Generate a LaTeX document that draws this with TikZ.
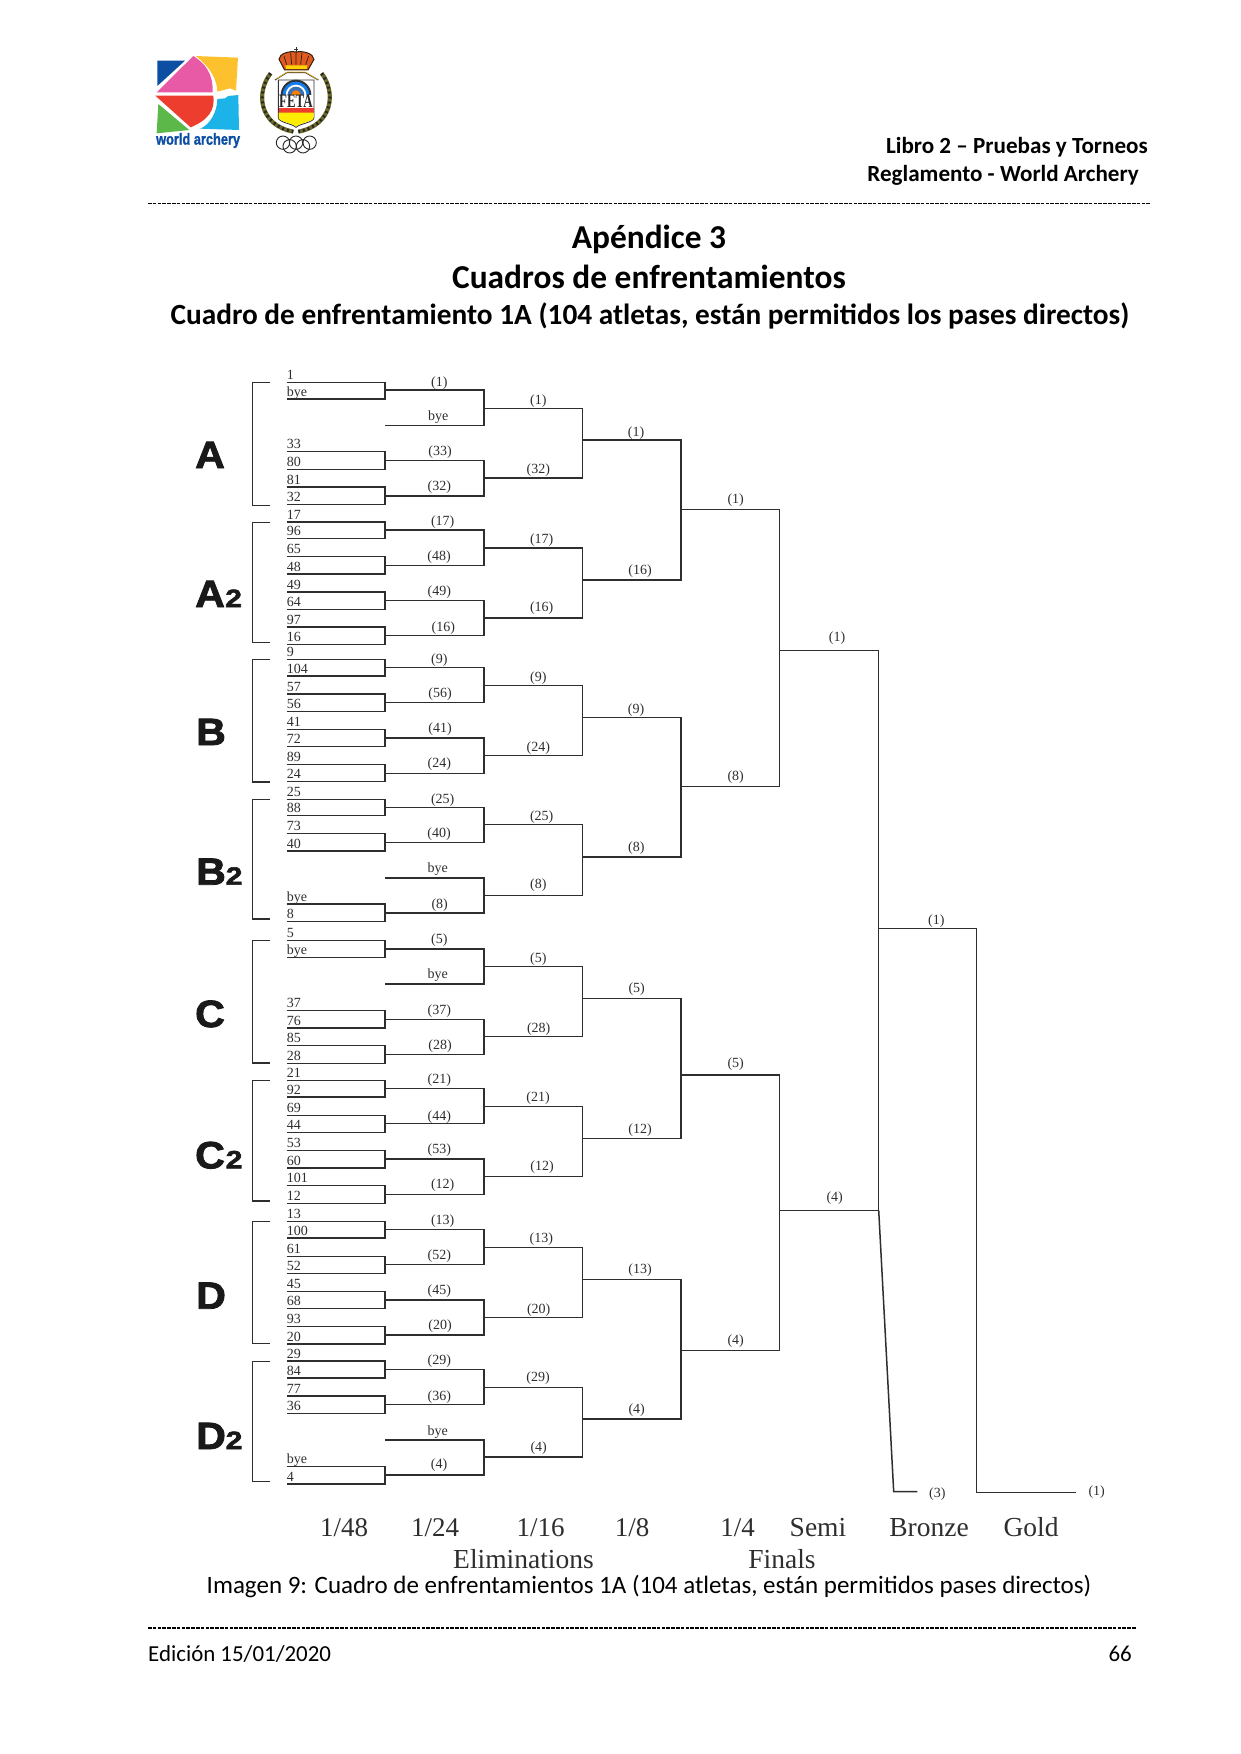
\documentclass[tikz,border=0pt]{standalone}
\usepackage{fontspec}
\setmainfont{Carlito}
\newfontfamily\timesf{Liberation Serif}
\newfontfamily\secfont[UprightFeatures={FakeBold=2.2}]{Liberation Sans Bold}
\newfontfamily\wafont[UprightFeatures={FakeBold=1.5}]{Liberation Sans Bold}
\definecolor{ink}{HTML}{2E2E2E}
\definecolor{wablue}{HTML}{0B4EA2}
\definecolor{wapink}{HTML}{E85AA6}
\definecolor{wayellow}{HTML}{FDC12E}
\definecolor{wared}{HTML}{EC3D2E}
\definecolor{wagreen}{HTML}{5CB848}
\definecolor{wacyan}{HTML}{1BB3E8}
\definecolor{olive2}{HTML}{6B6A2A}
\definecolor{crownred}{HTML}{DE5A1E}
\newcommand\fs[1]{\fontsize{#1}{#1}\selectfont}
\newcounter{lc}
\newcommand\lab[3]{\stepcounter{lc}\node[lbl] (L\arabic{lc}) at ({\ox+#1/3},{\oy+#2/3+4}) {#3};}
% pair of first-round lines: name, y origin, top, bottom, output y, seed top, seed bottom
\newcommand\rp[7]{%
 \coordinate (#1-lt) at (286.7,{#2+#3/3});
 \coordinate (#1-lb) at (286.7,{#2+#4/3});
 \coordinate (#1-t) at (385,{#2+#3/3});
 \coordinate (#1-b) at (385,{#2+#4/3});
 \coordinate (#1-m) at (385,{#2+#5/3});
 \draw[brk] (#1-lt)--(#1-t)--(#1-b)--(#1-lb);
 \node[seed] (#1-s) at ([yshift=3pt]#1-lt) {#6};
 \node[seed] (#1-u) at ([yshift=3pt]#1-lb) {#7};
}
% junction: name, upper feeder, lower feeder, x, output y
\newcommand\jn[5]{%
 \coordinate (#1-x) at (#4,0);
 \coordinate (#1-t) at (#2-m -| #1-x);
 \coordinate (#1-b) at (#3-m -| #1-x);
 \coordinate (#1-m) at (#4,#5);
 \draw[brk] (#2-m)--(#1-t)--(#1-b)--(#3-m);
}
\newcommand\sect[3]{%
 \coordinate (#1-a) at (270,#2);
 \coordinate (#1-c) at (252.7,#2);
 \coordinate (#1-d) at (252.7,#3);
 \coordinate (#1-e) at (270,#3);
 \draw[brkl] (#1-a)--(#1-c)--(#1-d)--(#1-e);
}
\tikzset{
 brk/.style={draw=ink,line width=1.5pt,line join=miter},
 brkl/.style={draw=ink,line width=1.3pt,line join=miter},
 lbl/.style={anchor=base,inner sep=0pt,text=ink,font=\timesf\fs{14}},
 seed/.style={anchor=base west,inner sep=0pt,text=ink,font=\timesf\fs{14}},
 ltr/.style={anchor=base west,inner sep=0pt,text=black!90,font=\secfont\fs{38},xscale=1.08},
 sub/.style={anchor=base west,inner sep=0pt,text=black!90,font=\secfont\fs{25},xscale=1.2},
 axl/.style={anchor=base,inner sep=0pt,text=ink,font=\timesf\fs{27}},
 axw/.style={anchor=base,inner sep=0pt,text=ink,font=\timesf\fs{27.5}},
 hd/.style={inner sep=0pt,text=black,font=\bfseries\fs{23.1}},
 ttl/.style={anchor=base,inner sep=0pt,text=black,font=\bfseries\fs{33.4}},
 ttm/.style={anchor=base,inner sep=0pt,text=black,font=\bfseries\fs{29.3}},
 ft/.style={inner sep=0pt,text=black,font=\fs{22.9}},
 cpt/.style={inner sep=0pt,text=black,font=\fs{25}},
 rule/.style={draw=black,line width=1.9pt,dash pattern=on 3.6pt off 1.2pt},
}
\begin{document}
\begin{tikzpicture}[x=1pt,y=-1pt]
\useasboundingbox (0,0) rectangle (1240,1754);
% ---- logos (coordinates of a 3x enlargement)
\begin{scope}[xshift=130pt,yshift=-30pt,x=0.3333pt,y=-0.3333pt]
 \fill[wablue] (82,92)--(165,92)--(82,168)--cycle;
 \fill[wapink] (80,187)--(190,78) .. controls (225,100) and (250,130) .. (248,187)--cycle;
 \fill[wayellow] (197,78)--(324,83)--(318,182)--(300,175)--(262,185) .. controls (262,150) and (240,110) .. (197,78)--cycle;
 \fill[wared] (76,197)--(250,197) .. controls (256,240) and (235,270) .. (182,292)--cycle;
 \fill[wagreen] (85,222)--(178,300)--(80,310)--cycle;
 \fill[wacyan] (325,195)--(327,300)--(210,296) .. controls (240,285) and (262,245) .. (262,207)--(285,205)--(295,198)--cycle;
 \node[anchor=base west,inner sep=0pt,text=wablue,font=\wafont\fs{16},xscale=0.8] (wa) at (78,344) {world archery};
 % crest
 \draw[olive2,line width=4.2pt] (422,130) .. controls (378,185) and (385,285) .. (490,305);
 \draw[olive2,line width=4.2pt] (575,130) .. controls (618,185) and (610,285) .. (505,305);
 \draw[black!85,line width=3pt,dash pattern=on 2pt off 3pt] (422,130) .. controls (378,185) and (385,285) .. (490,305);
 \draw[black!85,line width=3pt,dash pattern=on 2pt off 3pt] (575,130) .. controls (618,185) and (610,285) .. (505,305);
 \draw[black!75!brown,fill=crownred,line width=1pt] (464,120)--(447,88) .. controls (448,70) and (480,62) .. (498,66) .. controls (520,62) and (550,70) .. (552,88)--(534,120)--cycle;
 \draw[black!75!brown,line width=0.7pt] (470,104)--(462,78) (485,104)--(482,68) (498,104)--(498,66) (512,104)--(516,68) (527,104)--(536,78);
 \fill[yellow!70!orange] (466,106)--(532,106)--(530,117)--(468,117)--cycle;
 \draw[black!80,line width=0.8pt] (498,52)--(498,68) (493,58)--(503,58);
 \draw[black!80,line width=1.1pt] (435,150)--(470,128)--(527,128)--(565,150);
 \draw[wayellow,line width=0.6pt] (437,148)--(471,126)--(526,126)--(563,148);
 \draw[black!80,fill=white,line width=0.9pt] (445,150)--(552,150)--(552,262) .. controls (552,278) and (510,280) .. (498,292) .. controls (486,280) and (445,278) .. (445,262)--cycle;
 \fill[black!80] (452,195) arc[start angle=180,end angle=360,radius=46]--cycle;
 \fill[wacyan!70!blue] (458,195) arc[start angle=180,end angle=360,radius=40]--cycle;
 \fill[white] (467,195) arc[start angle=180,end angle=360,radius=31]--cycle;
 \fill[wablue!80] (473,195) arc[start angle=180,end angle=360,radius=25]--cycle;
 \fill[orange] (484,195) arc[start angle=180,end angle=360,radius=14]--cycle;
 \node[inner sep=0pt,text=black!85,font=\timesf\bfseries\fs{19},xscale=0.68] (fe) at (498,213) {FETA};
 \fill[wared] (446,235) rectangle (551,248);
 \fill[yellow!95!orange] (446,248)--(551,248)--(551,262) .. controls (551,276) and (510,278) .. (498,290) .. controls (486,278) and (446,276) .. (446,262)--cycle;
 \foreach \cx/\cy in {459/338,498/338,539/338,479/349,519/349}
  \draw[black!85,line width=0.9pt] (\cx,\cy) circle[radius=20];
\end{scope}
% ---- headings
\node[hd,anchor=base east] (h1) at (1148,153.5) {Libro 2 – Pruebas y Torneos};
\node[hd,anchor=base east] (h2) at (1139,181.5) {Reglamento - World Archery};
\coordinate (r1a) at (148,203.5); \coordinate (r1b) at (1150,203.5);
\draw[rule] (r1a)--(r1b);
\node[ttl] (t1) at (649,248.3) {Apéndice 3};
\node[ttl] (t2) at (649,288) {Cuadros de enfrentamientos};
\node[ttm] (t3) at (650,324) {Cuadro de enfrentamiento 1A (104 atletas, están permitidos los pases directos)};
% ---- section letters and brackets
\node[ltr] (la) at (195,468) {A};
\node[ltr] (lb) at (195,607) {A};  \node[sub] (lb2) at (225,607) {2};
\node[ltr] (lc) at (196,745) {B};
\node[ltr] (ld) at (196,884.7) {B}; \node[sub] (ld2) at (225.5,884.7) {2};
\node[ltr] (le) at (195,1027) {C};
\node[ltr] (lf) at (195,1168.3) {C}; \node[sub] (lf2) at (225.5,1168.3) {2};
\node[ltr] (lg) at (196,1308.7) {D};
\node[ltr] (lh) at (196,1449) {D}; \node[sub] (lh2) at (225.5,1449) {2};
\sect{sa}{382.3}{505.3}
\sect{sb}{522.3}{642.3}
\sect{sc}{659.3}{782}
\sect{sd}{799.3}{919}
\sect{se}{940.3}{1063}
\sect{sf}{1080.7}{1201}
\sect{sg}{1221.3}{1343.7}
\sect{sh}{1361.7}{1481.7}
% ---- A
\rp{a1}{360}{67}{117}{90}{1}{bye}
\coordinate (a2-m) at (385,{360+197/3});
\rp{a3}{360}{275}{328}{302}{33}{80}
\rp{a4}{360}{381}{434}{408}{81}{32}
\jn{a12}{a1}{a2}{484}{{360+145/3}}
\jn{a34}{a3}{a4}{484}{{360+354/3}}
\jn{ax}{a12}{a34}{582.7}{440}
% ---- A2
\rp{b1}{360}{486}{535}{510}{17}{96}
\rp{b2}{360}{590}{642}{616}{65}{48}
\rp{b3}{360}{696}{748}{722}{49}{64}
\rp{b4}{360}{801}{853}{827}{97}{16}
\jn{b12}{b1}{b2}{484}{{360+564/3}}
\jn{b34}{b3}{b4}{484}{{360+774/3}}
\jn{bx}{b12}{b34}{582.7}{580}
\jn{q1}{ax}{bx}{681.2}{509.3}
% ---- B
\rp{c1}{630}{88}{138}{113}{9}{104}
\rp{c2}{630}{192}{244}{218}{57}{56}
\rp{c3}{630}{298}{350}{324}{41}{72}
\rp{c4}{630}{403}{455}{430}{89}{24}
\jn{c12}{c1}{c2}{484}{{630+166/3}}
\jn{c34}{c3}{c4}{484}{{630+376/3}}
\jn{cx}{c12}{c34}{582.7}{717.7}
% ---- B2
\rp{d1}{780}{58}{106}{82}{25}{88}
\rp{d2}{780}{160}{213}{187}{73}{40}
\coordinate (d3-m) at (385,{780+294/3});
\rp{d4}{780}{372}{425}{399}{bye}{8}
\jn{d12}{d1}{d2}{484}{{780+134/3}}
\jn{d34}{d3}{d4}{484}{{780+346/3}}
\jn{dx}{d12}{d34}{582.7}{857}
\jn{q2}{cx}{dx}{681.2}{786.7}
% ---- C
\rp{e1}{780}{481}{532}{507}{5}{bye}
\coordinate (e2-m) at (385,{780+612/3});
\rp{e3}{780}{691}{744}{718}{37}{76}
\rp{e4}{780}{797}{850}{824}{85}{28}
\jn{e12}{e1}{e2}{484}{{780+560/3}}
\jn{e34}{e3}{e4}{484}{{780+770/3}}
\jn{ex}{e12}{e34}{582.7}{998.5}
% ---- C2
\rp{f1}{1060}{61}{111}{85}{21}{92}
\rp{f2}{1060}{166}{217}{191}{69}{44}
\rp{f3}{1060}{271}{324}{297}{53}{60}
\rp{f4}{1060}{377}{430}{403}{101}{12}
\jn{f12}{f1}{f2}{484}{{1060+139/3}}
\jn{f34}{f3}{f4}{484}{{1060+349/3}}
\jn{fx}{f12}{f34}{582.7}{1138.3}
\jn{q3}{ex}{fx}{681.2}{1074.9}
% ---- D
\rp{g1}{1060}{484}{534}{508}{13}{100}
\rp{g2}{1060}{589}{640}{613}{61}{52}
\rp{g3}{1060}{694}{746}{720}{45}{68}
\rp{g4}{1060}{800}{852}{825}{93}{20}
\jn{g12}{g1}{g2}{484}{{1060+562/3}}
\jn{g34}{g3}{g4}{484}{{1060+772/3}}
\jn{gx}{g12}{g34}{582.7}{1279.5}
% ---- D2
\rp{h1}{1340}{63}{114}{88}{29}{84}
\rp{h2}{1340}{168}{220}{193}{77}{36}
\coordinate (h3-m) at (385,{1340+300/3});
\rp{h4}{1340}{379}{432}{405}{bye}{4}
\jn{h12}{h1}{h2}{484}{{1340+142/3}}
\jn{h34}{h3}{h4}{484}{{1340+351/3}}
\jn{hx}{h12}{h34}{582.7}{1418.9}
\jn{q4}{gx}{hx}{681.2}{1350.4}
% ---- finals
\jn{s1}{q1}{q2}{779.7}{650.7}
\jn{s2}{q3}{q4}{779.7}{1210.3}
\jn{ff}{s1}{s2}{878.7}{928.7}
\coordinate (gt) at (976.7,928.7);
\coordinate (gb) at (976.7,1492.5);
\coordinate (ge) at (1076,1492.5);
\draw[brk] (ff-m)--(gt)--(gb)--(ge);
\coordinate (bz) at (893.7,1491.7);
\coordinate (bze) at (917.3,1491.7);
\draw[brk] (ff-b)--(bz)--(bze);
% ---- match labels
\def\ox{180}\def\oy{360}
\lab{778}{67}{(1)}\lab{775}{169}{bye}\lab{780}{275}{(33)}\lab{778}{378}{(32)}
\lab{788}{484}{(17)}\lab{777}{588}{(48)}\lab{778}{693}{(49)}\lab{790}{802}{(16)}
\lab{1075}{122}{(1)}\lab{1075}{329}{(32)}\lab{1085}{537}{(17)}\lab{1085}{742}{(16)}
\def\oy{630}
\lab{778}{87}{(9)}\lab{780}{189}{(56)}\lab{780}{295}{(41)}\lab{778}{400}{(24)}
\lab{1075}{143}{(9)}\lab{1075}{351}{(24)}
\def\oy{780}
\lab{788}{57}{(25)}\lab{777}{159}{(40)}\lab{773}{264}{bye}\lab{779}{373}{(8)}
\lab{1085}{108}{(25)}\lab{1075}{314}{(8)}
\lab{778}{478}{(5)}\lab{773}{583}{bye}\lab{778}{691}{(37)}\lab{780}{795}{(28)}
\lab{1075}{535}{(5)}\lab{1076}{745}{(28)}
\def\oy{1060}
\lab{778}{58}{(21)}\lab{778}{169}{(44)}\lab{778}{269}{(53)}\lab{788}{372}{(12)}
\lab{1074}{112}{(21)}\lab{1086}{318}{(12)}
\lab{788}{480}{(13)}\lab{778}{585}{(52)}\lab{778}{692}{(45)}\lab{780}{796}{(20)}
\lab{1084}{536}{(13)}\lab{1076}{747}{(20)}
\def\oy{1340}
\lab{778}{60}{(29)}\lab{778}{169}{(36)}\lab{773}{273}{bye}\lab{777}{373}{(4)}
\lab{1074}{113}{(29)}\lab{1076}{321}{(4)}
\def\ox{570}\def\oy{400}
\lab{198}{96}{(1)}\lab{210}{510}{(16)}\lab{198}{927}{(9)}\lab{199}{1341}{(8)}
\lab{497}{299}{(1)}\lab{497}{1130}{(8)}\lab{801}{713}{(1)}
\def\oy{900}
\lab{200}{266.5}{(5)}\lab{210}{687}{(12)}\lab{210}{1108.5}{(13)}\lab{200}{1529}{(4)}
\lab{497}{491.7}{(5)}\lab{497}{1321}{(4)}\lab{794}{893.6}{(4)}\lab{1099}{60}{(1)}
\def\ox{780}\def\oy{1180}
\lab{472}{940}{(3)}\lab{950}{935}{(1)}
% ---- round names
\node[axl] (x1) at (344,1536.7) {1/48};
\node[axl] (x2) at (435,1536.7) {1/24};
\node[axl] (x3) at (540.6,1536.7) {1/16};
\node[axl] (x4) at (632,1536.7) {1/8};
\node[axl] (x5) at (737.5,1536.7) {1/4};
\node[axw] (x6) at (818,1536.7) {Semi};
\node[axw] (x7) at (929,1536.7) {Bronze};
\node[axw] (x8) at (1031,1536.7) {Gold};
\node[axw] (x9) at (523.5,1568) {Eliminations};
\node[axw] (x10) at (782,1568) {Finals};
% ---- caption and footer
\node[cpt,anchor=base] (cp) at (649,1593) {Imagen 9: Cuadro de enfrentamientos 1A (104 atletas, están permitidos pases directos)};
\coordinate (r2a) at (148,1628); \coordinate (r2b) at (1136,1628);
\draw[rule] (r2a)--(r2b);
\node[ft,anchor=base west] (f1) at (148,1661.7) {Edición 15/01/2020};
\node[ft,anchor=base east] (f2) at (1132,1661.7) {66};
\end{tikzpicture}
\end{document}
